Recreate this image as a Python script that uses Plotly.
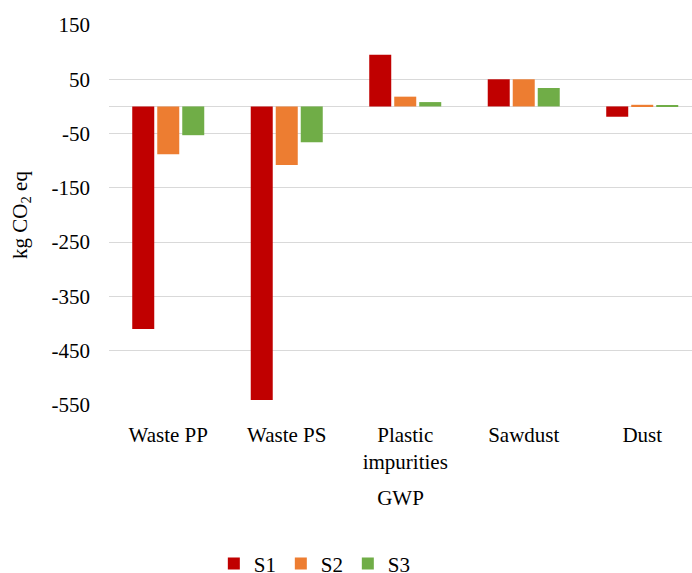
import plotly.graph_objects as go

categories = ["Waste PP", "Waste PS", "Plastic<br>impurities", "Sawdust", "Dust"]
s1 = [-410, -541, 95, 50, -19]
s2 = [-88, -108, 18, 50, 3]
s3 = [-53, -66, 8, 34, 1]
series_names = ["S1", "S2", "S3"]
colors = ["#C00000", "#ED7D31", "#70AD47"]
y_ticks = [150, 50, -50, -150, -250, -350, -450, -550]

font = "Liberation Serif, Times New Roman, serif"

fig = go.Figure()
for name, vals, col in zip(series_names, [s1, s2, s3], colors):
    fig.add_trace(go.Bar(x=categories, y=vals, name=name, marker_color=col,
                         marker_line_width=0))

fig.update_layout(
    width=692, height=573,
    margin=dict(l=109, r=0, t=25, b=168),
    paper_bgcolor="white", plot_bgcolor="white",
    font=dict(family=font, size=21, color="#000000"),
    barmode="group", bargap=0.367, bargroupgap=0.12,
    showlegend=True,
    legend=dict(orientation="h", xref="container", yref="container",
                x=0.309, xanchor="left", y=0.016, yanchor="middle",
                font=dict(size=21), itemwidth=30, entrywidth=22,
                traceorder="normal"),
)
fig.update_xaxes(
    range=[-0.5, 4.42], showgrid=False, showline=False, ticks="",
    ticklabelstandoff=15, automargin=False,
    title=dict(text="GWP", standoff=17, font=dict(size=21)),
)
fig.update_yaxes(
    range=[-550, 150], tickvals=y_ticks, ticktext=[str(v) for v in y_ticks],
    showgrid=True, gridcolor="#D9D9D9", gridwidth=1.3,
    zeroline=True, zerolinecolor="#D9D9D9", zerolinewidth=1.3,
    showline=False, ticks="", ticklabelstandoff=18, automargin=False,
    title=dict(text="kg CO<sub>2</sub> eq", standoff=18, font=dict(size=21)),
)

fig.write_html("out.html")
